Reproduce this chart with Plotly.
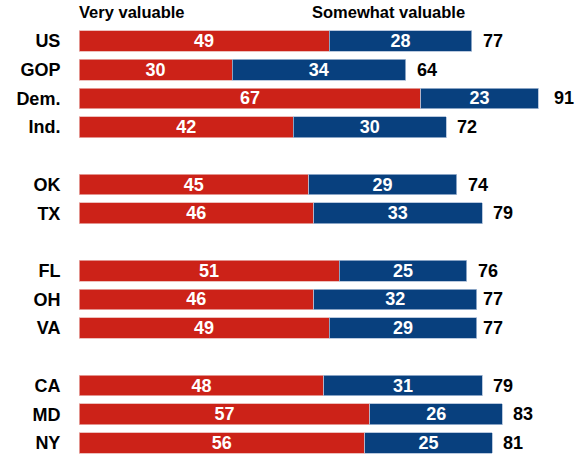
import plotly.graph_objects as go

categories = ["US", "GOP", "Dem.", "Ind.", "OK", "TX", "FL", "OH", "VA", "CA", "MD", "NY"]
slots = [0, 1, 2, 3, 5, 6, 8, 9, 10, 12, 13, 14]
very = [49, 30, 67, 42, 45, 46, 51, 46, 49, 48, 57, 56]
somewhat = [28, 34, 23, 30, 29, 33, 25, 32, 29, 31, 26, 25]
totals = [77, 64, 91, 72, 74, 79, 76, 77, 77, 79, 83, 81]
series_names = ["Very valuable", "Somewhat valuable"]

RED = "#CC2218"
BLUE = "#08407E"
FONT = "Liberation Sans, Arial, sans-serif"
VAL_SIZE = 18

fig = go.Figure()
fig.add_trace(go.Bar(
    y=slots, x=very, orientation="h", name=series_names[0],
    marker=dict(color=RED, line=dict(color="#e8b0ac", width=0.8)),
    text=[str(v) for v in very], textposition="inside", insidetextanchor="middle",
    constraintext="none",
    textfont=dict(color="white", size=VAL_SIZE, family=FONT, weight="bold"),
    width=0.72,
))
fig.add_trace(go.Bar(
    y=slots, x=somewhat, orientation="h", name=series_names[1],
    marker=dict(color=BLUE, line=dict(color="#a9bcd6", width=0.8)),
    text=[str(v) for v in somewhat], textposition="inside", insidetextanchor="middle",
    constraintext="none",
    textfont=dict(color="white", size=VAL_SIZE, family=FONT, weight="bold"),
    width=0.72,
))

for s, t in zip(slots, totals):
    fig.add_annotation(x=t, y=s, xref="x", yref="y", text=str(t), showarrow=False,
                       xanchor="left", yanchor="middle", xshift=9,
                       font=dict(color="black", size=VAL_SIZE, family=FONT, weight="bold"))

fig.add_annotation(x=0, y=-1.0, xref="x", yref="y", text=series_names[0],
                   showarrow=False, xanchor="left", yanchor="middle", xshift=-2,
                   font=dict(size=16.5, family=FONT, color="black", weight="bold"))
fig.add_annotation(x=45.3, y=-1.0, xref="x", yref="y", text=series_names[1],
                   showarrow=False, xanchor="left", yanchor="middle",
                   font=dict(size=16.5, family=FONT, color="black", weight="bold"))

fig.update_layout(
    barmode="stack",
    width=579, height=455,
    margin=dict(l=79, r=0, t=0, b=0),
    paper_bgcolor="white", plot_bgcolor="white",
    showlegend=False,
    hovermode=False,
    xaxis=dict(range=[0, 98.0], visible=False, showgrid=False, zeroline=False),
    yaxis=dict(range=[14.42, -1.43], tickvals=slots, ticktext=categories,
               showgrid=False, zeroline=False, showline=False,
               ticks="outside", ticklen=14, tickcolor="rgba(0,0,0,0)",
               tickfont=dict(size=18, family=FONT, color="black", weight="bold")),
)

fig.write_html("out.html", config={"displayModeBar": False},
               post_script="document.body.style.margin='0';document.body.style.overflow='hidden';")
